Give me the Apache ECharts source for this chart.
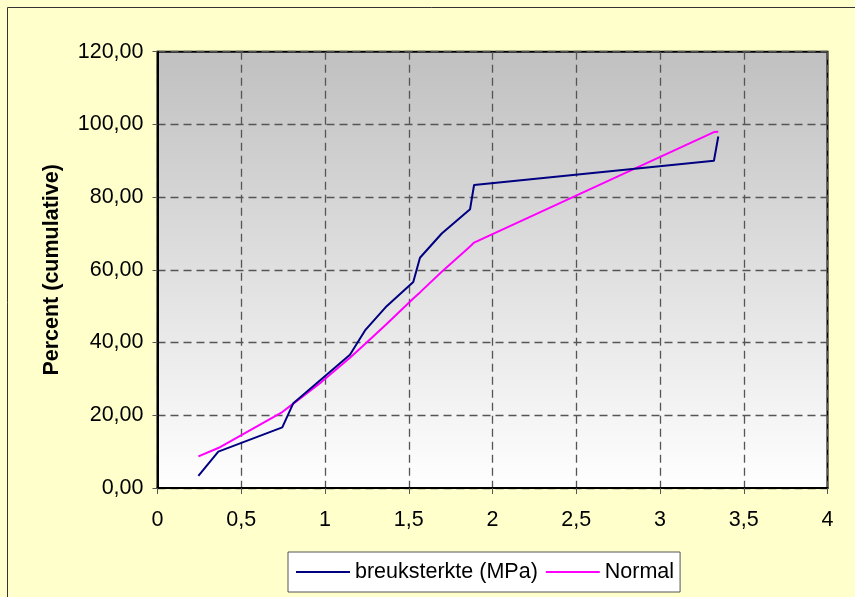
<!DOCTYPE html>
<html>
<head>
<meta charset="utf-8">
<script src="https://cdn.jsdelivr.net/npm/echarts@6/dist/echarts.min.js"></script>
<style>
html,body{margin:0;padding:0;background:#FFFFCC;}
#c{width:855px;height:597px;}
</style>
</head>
<body>
<div id="c"></div>
<script>
const strengthMPa = [0.244, 0.363, 0.745, 0.811, 0.98, 1.149, 1.239, 1.368, 1.527, 1.567, 1.697, 1.866, 1.89, 3.322, 3.348];
const percentCumulative = [3.33, 10.0, 16.67, 23.33, 30.0, 36.67, 43.33, 50.0, 56.67, 63.33, 70.0, 76.67, 83.33, 90.0, 96.67];
const normalPercent = [8.7, 11.0, 20.9, 23.2, 29.2, 35.8, 39.6, 45.1, 52.1, 53.8, 59.5, 66.4, 67.5, 97.9, 98.0];
const seriesNames = ['breuksterkte (MPa)', 'Normal'];
const yAxisTitle = 'Percent (cumulative)';

const chart = echarts.init(document.getElementById('c'), null, {renderer: 'canvas'});
const font = 'Liberation Sans, Arial, sans-serif';
const fs = 21.5;
const fmtComma = (v, d) => v.toFixed(d).replace('.', ',');

chart.setOption({
  backgroundColor: '#FFFFCC',
  animation: false,
  graphic: [{
    type: 'rect', shape: {x: 7.5, y: 7.5, width: 900, height: 700},
    style: {fill: 'none', stroke: '#333', lineWidth: 1}, silent: true, z: -1
  }],
  grid: {
    left: 157.5, right: 27.5, top: 51.7, bottom: 109,
    show: true,
    borderColor: '#000', borderWidth: 2,
    backgroundColor: new echarts.graphic.LinearGradient(0, 0, 0, 1, [
      {offset: 0, color: '#c0c0c0'},
      {offset: 1, color: '#ffffff'}
    ])
  },
  legend: {
    data: seriesNames,
    left: 288, top: 552,
    backgroundColor: '#fff',
    borderColor: '#555', borderWidth: 1,
    padding: [9, 6, 9, 8],
    itemGap: 8,
    itemWidth: 54, itemHeight: 2,
    icon: 'rect',
    textStyle: {fontFamily: font, fontSize: fs, color: '#000'}
  },
  xAxis: {
    type: 'value', min: 0, max: 4, interval: 0.5,
    axisLine: {show: true, onZero: false, lineStyle: {color: '#000', width: 2}},
    axisTick: {show: true, length: 6, lineStyle: {color: '#555'}},
    axisLabel: {fontFamily: font, fontSize: fs, color: '#000', margin: 21,
      formatter: v => (Number.isInteger(v) ? String(v) : fmtComma(v, 1))},
    splitLine: {show: true, lineStyle: {color: '#555', type: [8, 5], width: 1.3}}
  },
  yAxis: {
    type: 'value', min: 0, max: 120, interval: 20,
    name: yAxisTitle, nameLocation: 'middle', nameGap: 94,
    nameTextStyle: {fontFamily: font, fontSize: fs, fontWeight: 'bold', color: '#000'},
    axisLine: {show: true, lineStyle: {color: '#000', width: 2}},
    axisTick: {show: true, length: 5, lineStyle: {color: '#555'}},
    axisLabel: {fontFamily: font, fontSize: fs, color: '#000', margin: 14,
      formatter: v => fmtComma(v, 2)},
    splitLine: {show: true, lineStyle: {color: '#555', type: [8, 5], width: 1.3}}
  },
  series: [
    {
      name: seriesNames[0], type: 'line', showSymbol: false, symbol: 'none',
      data: strengthMPa.map((x, i) => [x, percentCumulative[i]]),
      lineStyle: {color: '#000080', width: 2}, itemStyle: {color: '#000080'}, z: 3
    },
    {
      name: seriesNames[1], type: 'line', showSymbol: false, symbol: 'none',
      data: strengthMPa.map((x, i) => [x, normalPercent[i]]),
      lineStyle: {color: '#FF00FF', width: 2}, itemStyle: {color: '#FF00FF'}, z: 2
    }
  ]
});
</script>
</body>
</html>
